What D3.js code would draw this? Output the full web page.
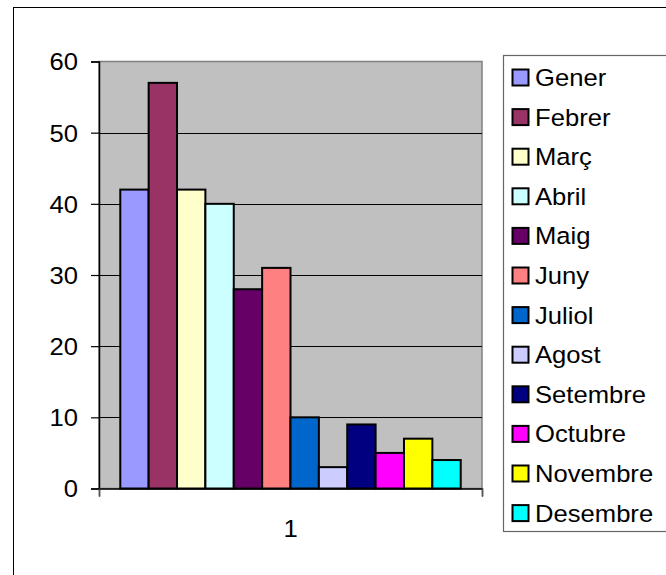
<!DOCTYPE html>
<html><head><meta charset="utf-8">
<script src="https://cdn.jsdelivr.net/npm/d3@7"></script>
<style>body{margin:0;background:#fff}svg{display:block}</style>
</head><body>
<svg id="c" width="666" height="575"></svg>
<script>
const months = ["Gener","Febrer","Març","Abril","Maig","Juny","Juliol","Agost","Setembre","Octubre","Novembre","Desembre"];
const values = [42,57,42,40,28,31,10,3,9,5,7,4];
const colors = ["#9999FF","#993366","#FFFFCC","#CCFFFF","#660066","#FF8080","#0066CC","#CCCCFF","#000080","#FF00FF","#FFFF00","#00FFFF"];
const yTicks = [0,10,20,30,40,50,60];
const xLabel = "1";

const svg = d3.select("#c");
const font = "'Liberation Sans', Arial, sans-serif";
const fs = 23.5, sx = 1.09;

// outer chart border
svg.append("rect").attr("x",13.5).attr("y",7.5).attr("width",700).attr("height",620)
  .attr("fill","#fff").attr("stroke","#000").attr("stroke-width",1);

const L = 99, R = 482, T = 61.5, B = 488.5;
const x = d3.scaleBand().domain(months).range([L,R]).paddingInner(0).paddingOuter(0.75);
const y = d3.scaleLinear().domain([0,60]).range([B,T]);

// plot area
svg.append("rect").attr("x",L).attr("y",T).attr("width",R-L).attr("height",B-T)
  .attr("fill","#C0C0C0").attr("stroke","#808080").attr("stroke-width",1.5);

// gridlines
svg.append("g").selectAll("line").data(yTicks.filter(d=>d>0 && d<60)).join("line")
  .attr("x1",L).attr("x2",R).attr("y1",d=>Math.round(y(d))+0.5).attr("y2",d=>Math.round(y(d))+0.5)
  .attr("stroke","#000").attr("stroke-width",1);

// bars
svg.append("g").selectAll("rect").data(months).join("rect")
  .attr("x",d=>x(d)).attr("width",x.bandwidth())
  .attr("y",(d,i)=>y(values[i])).attr("height",(d,i)=>B-y(values[i]))
  .attr("fill",(d,i)=>colors[i]).attr("stroke","#000").attr("stroke-width",2);

// y axis
const yAxis = d3.axisLeft(y).tickValues(yTicks).tickSize(8).tickPadding(13);
const gy = svg.append("g").attr("transform",`translate(${L},0)`).call(yAxis);
gy.select(".domain").attr("stroke","#000").attr("stroke-width",1.5);
gy.selectAll(".tick line").attr("stroke","#000").attr("stroke-width",1.2);
gy.selectAll(".tick text").attr("font-family",font).attr("font-size",fs).attr("fill","#000")
  .attr("transform",`scale(${sx},1)`).attr("x",-21/sx).attr("dy","0.36em");

// x axis
const xa = d3.scaleLinear().domain([0,1]).range([L,R]);
const gx = svg.append("g").attr("transform",`translate(0,${B})`)
  .call(d3.axisBottom(xa).tickValues([0,1]).tickSize(8).tickFormat(""));
gx.select(".domain").attr("stroke","#000").attr("stroke-width",1.5);
gx.selectAll(".tick line").attr("stroke","#555").attr("stroke-width",1.2);
svg.append("text").attr("font-family",font).attr("font-size",fs).attr("text-anchor","middle")
  .attr("transform",`translate(${(L+R)/2},536.5) scale(${sx},1)`).text(xLabel);

// legend
const lg = svg.append("g");
lg.append("rect").attr("x",503.5).attr("y",55.5).attr("width",200).attr("height",476)
  .attr("fill","#fff").attr("stroke","#666").attr("stroke-width",1.2);
const rows = lg.selectAll("g.row").data(months).join("g").attr("class","row")
  .attr("transform",(d,i)=>`translate(0,${69.5+i*39.6})`);
rows.append("rect").attr("x",512.5).attr("y",0).attr("width",16).attr("height",16)
  .attr("fill",(d,i)=>colors[i]).attr("stroke","#000").attr("stroke-width",2);
rows.append("text").attr("font-family",font).attr("font-size",fs)
  .attr("transform",`translate(535,16.5) scale(${sx},1)`).text(d=>d);
</script>
</body></html>
